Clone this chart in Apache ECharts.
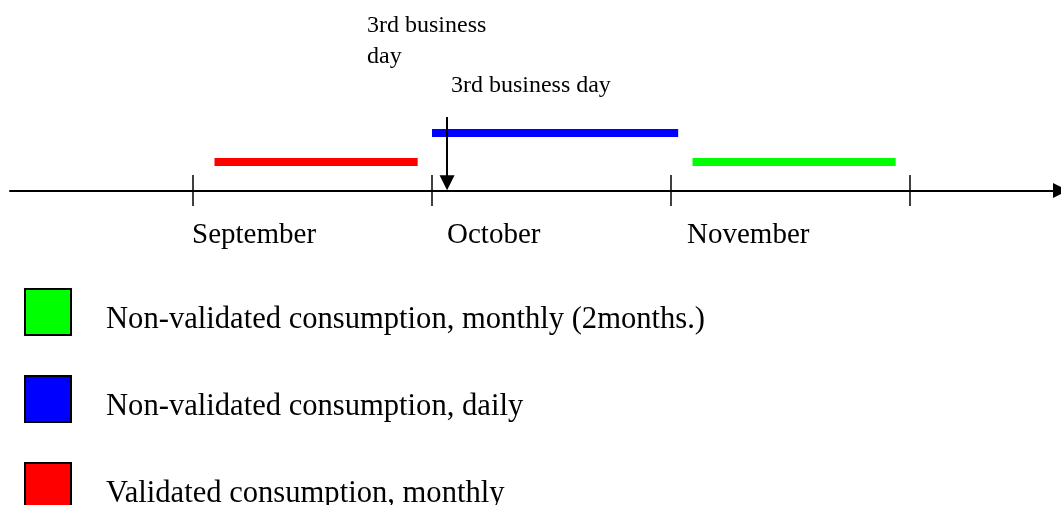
<!DOCTYPE html>
<html><head><meta charset="utf-8">
<script src="https://cdn.jsdelivr.net/npm/echarts@6/dist/echarts.min.js"></script>
<style>html,body{margin:0;padding:0;background:#fff}#c{width:1061px;height:505px}</style>
</head><body><div id="c"></div>
<script>
// Timeline in month units: 0 = start of September, 1 = October, 2 = November, 3 = December
const months = ['September', 'October', 'November'];
const monthStarts = [0, 1, 2, 3];
const seriesNames = ['Non-validated consumption, monthly (2months.)', 'Non-validated consumption, daily', 'Validated consumption, monthly'];
const seriesColors = ['#00ff00', '#0000ff', '#ff0000'];
const seriesStart = [2.09, 1.00, 0.09];
const seriesEnd = [2.94, 2.03, 0.94];
const seriesLevel = [1, 2, 1];
const markerX = 1.063;
const markerTop = 2.556;
const markerBottom = 0.27;
const annotationTexts = ['3rd business\nday', '3rd business day'];
const annotationX = [0.728, 1.079];
const annotationY = [5.18, 3.63];
// month label anchors (left edge of each label) and vertical level below the axis
const monthLabelX = [-0.004, 1.063, 2.067];
const monthLabelY = -1.57;

const SERIF = 'Liberation Serif';
const chart = echarts.init(document.getElementById('c'), null, {renderer: 'canvas'});

const segSeries = seriesNames.map((n, i) => ({
  name: n,
  type: 'lines',
  coordinateSystem: 'cartesian2d',
  z: 3,
  lineStyle: {color: seriesColors[i], width: 8, opacity: 1, cap: 'butt'},
  symbol: ['none', 'none'],
  data: [{coords: [[seriesStart[i], seriesLevel[i]], [seriesEnd[i], seriesLevel[i]]]}]
}));

const TICK_HALF = 0.54;

chart.setOption({
  animation: false,
  backgroundColor: '#fff',
  grid: {left: 10, top: 0, width: 1050.5, height: 505, containLabel: false, outerBoundsMode: 'none'},
  xAxis: {
    type: 'value', min: -0.7657, max: 3.6297, position: 'bottom',
    splitLine: {show: false},
    axisLine: {show: true, onZero: true, symbol: ['none', 'triangle'], symbolSize: [15, 15],
      lineStyle: {color: '#000', width: 2}},
    axisTick: {show: false},
    axisLabel: {show: false}
  },
  yAxis: {type: 'value', min: -10.939, max: 6.626, show: false},
  legend: {
    orient: 'vertical', left: 19, top: 283, height: 400, itemWidth: 46, itemHeight: 46, itemGap: 39,
    icon: 'rect', selectedMode: false,
    data: seriesNames.map((n, i) => ({name: n, itemStyle: {color: seriesColors[i], borderColor: '#000', borderWidth: 2}})),
    formatter: name => '{t|' + name + '}',
    textStyle: {
      fontSize: 30.6, fontFamily: SERIF, color: '#000', padding: [0, 0, 0, 30],
      rich: {t: {fontSize: 30.6, fontFamily: SERIF, color: '#000', padding: [15, 0, 0, 0]}}
    }
  },
  series: segSeries.concat([{
    type: 'lines',
    coordinateSystem: 'cartesian2d',
    z: 2,
    lineStyle: {color: '#000', width: 1.5, opacity: 1},
    data: monthStarts.map(m => ({coords: [[m, TICK_HALF], [m, -TICK_HALF]]}))
  }, {
    type: 'lines',
    coordinateSystem: 'cartesian2d',
    z: 4,
    symbol: ['none', 'triangle'],
    symbolSize: 15,
    lineStyle: {color: '#000', width: 2, opacity: 1},
    itemStyle: {color: '#000'},
    data: [{coords: [[markerX, markerTop], [markerX, markerBottom]]}]
  }, {
    type: 'scatter',
    symbolSize: 0,
    z: 5,
    silent: true,
    itemStyle: {opacity: 1},
    label: {
      show: true, position: 'inside', align: 'left', verticalAlign: 'middle',
      fontSize: 24, fontFamily: SERIF, color: '#000', opacity: 1, lineHeight: 31,
      formatter: p => annotationTexts[p.dataIndex]
    },
    data: annotationX.map((x, i) => [x, annotationY[i]])
  }, {
    type: 'scatter',
    symbolSize: 0,
    z: 5,
    silent: true,
    itemStyle: {opacity: 1},
    label: {
      show: true, position: 'inside', align: 'left', verticalAlign: 'middle',
      fontSize: 29, fontFamily: SERIF, color: '#000', opacity: 1,
      formatter: p => months[p.dataIndex]
    },
    data: monthLabelX.map(x => [x, monthLabelY])
  }])
});
</script>
</body></html>
